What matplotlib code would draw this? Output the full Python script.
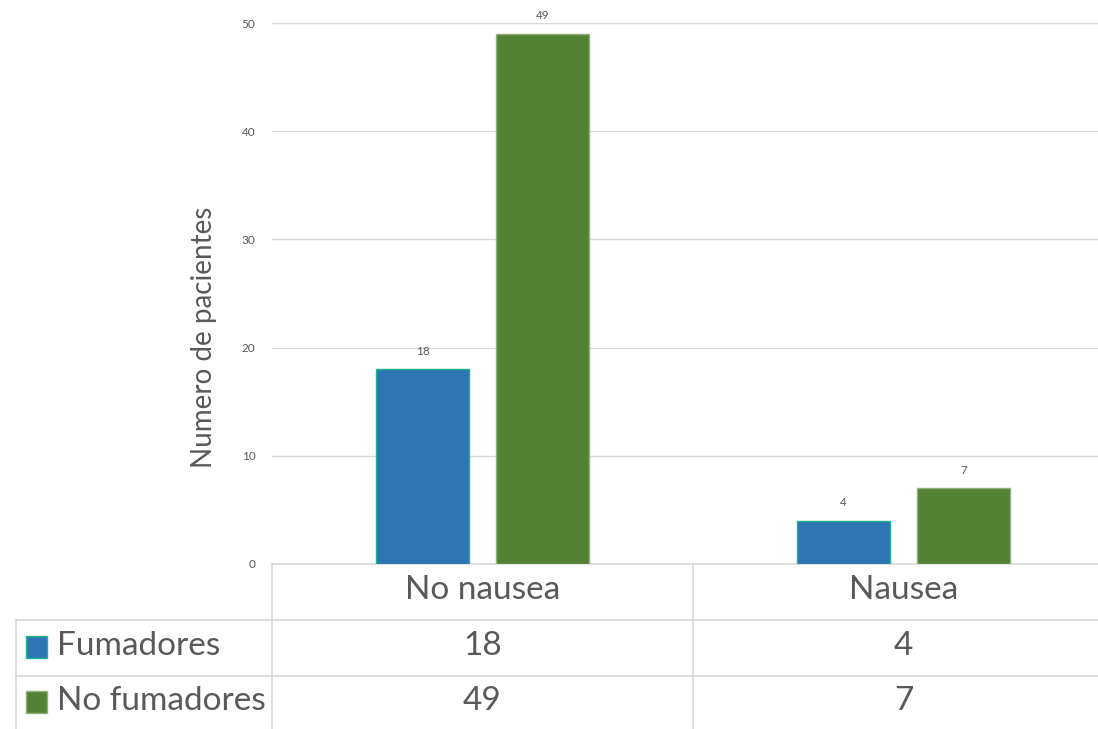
import matplotlib.pyplot as plt
from matplotlib.lines import Line2D
from matplotlib.patches import Rectangle
from matplotlib.transforms import blended_transform_factory
import numpy as np

# Data
categories = ["No nausea", "Nausea"]
series_names = ["Fumadores", "No fumadores"]
fumadores = [18, 4]
no_fumadores = [49, 7]
yticks = [0, 10, 20, 30, 40, 50]

colors = ["#2E75B6", "#548235"]
edges = ["#1FB58A", "#8FB07A"]
grey_txt = "#595959"
grid_col = "#D9D9D9"

plt.rcParams['font.family'] = ['Lato', 'DejaVu Sans']

W, H = 1098, 729
fig = plt.figure(figsize=(W / 100, H / 100), dpi=100)


def fx(px):
    return px / W


def fy(py):
    return 1 - py / H


# plot area in pixels (right edge runs past the image)
left, right, top, bottom = 272, 1114, 23, 564
ax = fig.add_axes([fx(left), fy(bottom), fx(right - left), (bottom - top) / H])
ax.set_xlim(-0.5, 1.5)
ax.set_ylim(0, 50)

x = np.arange(len(categories))
bw = 0.223
off = 0.1425
for vals, dx, c, e in zip([fumadores, no_fumadores], [-off, off], colors, edges):
    bars = ax.bar(x + dx, vals, width=bw, color=c, edgecolor=e, linewidth=1, zorder=3)
    for b, v in zip(bars, vals):
        ax.annotate(str(v), (b.get_x() + b.get_width() / 2, v), xytext=(0, 9),
                    textcoords="offset points", ha="center", va="bottom",
                    fontsize=8.5, color=grey_txt)

ax.set_yticks(yticks)
ax.set_yticklabels([str(t) for t in yticks], fontsize=8.5, color=grey_txt)
ax.tick_params(axis="y", length=0, pad=12)
ax.set_xticks([])
ax.grid(axis="y", color=grid_col, linewidth=1, zorder=0)
for s in ["top", "right", "left"]:
    ax.spines[s].set_visible(False)
ax.spines["bottom"].set_color(grid_col)
ax.spines["bottom"].set_linewidth(1.2)

fig.text(fx(204), fy(337), "Numero de pacientes", rotation=90, ha="center", va="center",
         fontsize=20, color=grey_txt)

# data table below the chart
lc = dict(color=grid_col, linewidth=1.2)
for yy in [620, 676]:
    fig.add_artist(Line2D([fx(16), 1], [fy(yy), fy(yy)], **lc))
fig.add_artist(Line2D([fx(16), fx(16)], [fy(620), 0], **lc))
fig.add_artist(Line2D([fx(left), fx(left)], [fy(bottom), 0], **lc))
bt = blended_transform_factory(ax.transData, fig.transFigure)
fig.add_artist(Line2D([0.5, 0.5], [fy(bottom), 0], transform=bt, **lc))

for i, cat in enumerate(categories):
    fig.text(i, fy(590), cat, transform=bt, ha="center", va="center",
             fontsize=24, color=grey_txt)

row_y = [646, 701]
for vals, ry, name, c, e in zip([fumadores, no_fumadores], row_y, series_names, colors, edges):
    fig.add_artist(Rectangle((fx(26), fy(ry + 12)), fx(21), 22 / H,
                             facecolor=c, edgecolor=e, linewidth=1))
    fig.text(fx(57), fy(ry), name, ha="left", va="center", fontsize=24, color=grey_txt)
    for i, v in enumerate(vals):
        fig.text(i, fy(ry), str(v), transform=bt, ha="center", va="center",
                 fontsize=24, color=grey_txt)

fig.savefig("out.png", dpi=100)
